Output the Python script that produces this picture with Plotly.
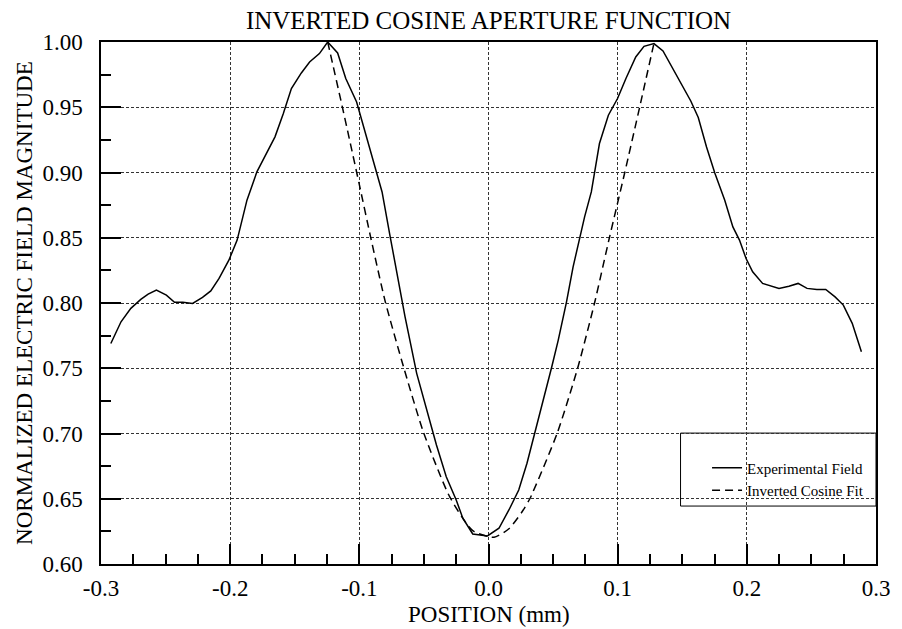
import plotly.graph_objects as go

# Experimental field
exp_x = [-0.2924, -0.2845, -0.2769, -0.2692, -0.2635, -0.2571, -0.2494, -0.2431, -0.2367, -0.2291,
         -0.2214, -0.2150, -0.2086, -0.2010, -0.1946, -0.1870, -0.1793, -0.1729, -0.1653, -0.1589,
         -0.1526, -0.1449, -0.1385, -0.1309, -0.1245, -0.1168, -0.1105, -0.1021, -0.0939, -0.0875,
         -0.0824, -0.0761, -0.0709, -0.0646, -0.0556, -0.0480, -0.0403, -0.0327, -0.0250, -0.0199,
         -0.0122, -0.0008, 0.0081, 0.0158, 0.0234, 0.0298, 0.0362, 0.0425, 0.0490, 0.0540,
         0.0604, 0.0655, 0.0706, 0.0744, 0.0796, 0.0821, 0.0859, 0.0928, 0.0999, 0.1064,
         0.1140, 0.1204, 0.1281, 0.1351, 0.1420, 0.1497, 0.1566, 0.1624, 0.1688, 0.1752,
         0.1829, 0.1892, 0.1943, 0.1994, 0.2045, 0.2122, 0.2249, 0.2326, 0.2397, 0.2466,
         0.2542, 0.2611, 0.2683, 0.2747, 0.2816, 0.2887]
exp_y = [0.769, 0.7856, 0.7959, 0.8028, 0.8068, 0.8099, 0.8060, 0.8005, 0.8005, 0.7997,
         0.8043, 0.8093, 0.8188, 0.8328, 0.8482, 0.8788, 0.9005, 0.9132, 0.9273, 0.9451,
         0.9643, 0.9763, 0.9847, 0.9911, 1.000, 0.9916, 0.972, 0.954, 0.926, 0.9043,
         0.8851, 0.8507, 0.8227, 0.7894, 0.7461, 0.718, 0.6912, 0.6669, 0.6491, 0.6351,
         0.6230, 0.6215, 0.6274, 0.6414, 0.6567, 0.6772, 0.7014, 0.7256, 0.7511, 0.7716,
         0.8009, 0.8277, 0.8507, 0.866, 0.8851, 0.901, 0.9222, 0.9439, 0.9567, 0.972,
         0.9885, 0.9967, 0.9988, 0.9931, 0.9809, 0.9668, 0.9548, 0.9421, 0.9196, 0.8997,
         0.8788, 0.8583, 0.8482, 0.8341, 0.8239, 0.815, 0.8112, 0.8129, 0.815, 0.8112,
         0.8104, 0.8104, 0.8047, 0.7984, 0.7844, 0.7626]

# Inverted cosine fit
fit_x = [-0.1245, -0.1131, -0.1002, -0.0913, -0.0799, -0.0658, -0.0505, -0.0301, -0.0122, 0.0043,
         0.0158, 0.0260, 0.0320, 0.0531, 0.0690, 0.0821, 0.0936, 0.1055, 0.1170, 0.1281]
fit_y = [1.000, 0.950, 0.8916, 0.8507, 0.8009, 0.7511, 0.7014, 0.6516, 0.6255, 0.6205,
         0.6270, 0.6400, 0.6500, 0.7000, 0.7500, 0.8000, 0.8500, 0.900, 0.950, 0.999]

x_ticks = [-0.3, -0.2, -0.1, 0.0, 0.1, 0.2, 0.3]
x_labels = ["-0.3", "-0.2", "-0.1", "0.0", "0.1", "0.2", "0.3"]
y_ticks = [0.60, 0.65, 0.70, 0.75, 0.80, 0.85, 0.90, 0.95, 1.00]
y_labels = ["0.60", "0.65", "0.70", "0.75", "0.80", "0.85", "0.90", "0.95", "1.00"]

FONT = "Liberation Serif, Times New Roman, serif"

fig = go.Figure()
fig.add_trace(go.Scatter(x=exp_x, y=exp_y, mode="lines", name="Experimental Field",
                         line=dict(color="black", width=1.5)))
fig.add_trace(go.Scatter(x=fit_x, y=fit_y, mode="lines", name="Inverted Cosine Fit",
                         line=dict(color="black", width=1.5, dash="8px,5px", shape="spline", smoothing=0.6)))

axis_common = dict(
    showline=True, linecolor="black", linewidth=1.5, mirror=True,
    showgrid=True, gridcolor="#333333", gridwidth=1, griddash="3px,2px",
    ticks="inside", tickcolor="black", tickwidth=1.5,
    zeroline=False,
    tickfont=dict(family=FONT, size=23, color="black"),
)

fig.update_xaxes(
    range=[-0.3, 0.3], tickvals=x_ticks, ticktext=x_labels, ticklen=20,
    minor=dict(ticks="inside", dtick=0.025, ticklen=10, tickcolor="black", tickwidth=1.5, showgrid=False),
    ticklabelstandoff=3,
    **axis_common,
)
fig.update_yaxes(
    range=[0.60, 1.00], tickvals=y_ticks, ticktext=y_labels, ticklen=20,
    minor=dict(ticks="inside", dtick=0.025, ticklen=10, tickcolor="black", tickwidth=1.5, showgrid=False),
    ticklabelstandoff=12,
    **axis_common,
)

fig.add_shape(type="rect", xref="paper", yref="paper", x0=0.7478, x1=1.0, y0=0.111, y1=0.2508,
              line=dict(color="black", width=1), fillcolor="white", layer="below")

fig.add_annotation(text="POSITION (mm)", xref="paper", yref="paper", x=0.5, y=-0.0977,
                   xanchor="center", yanchor="middle", showarrow=False,
                   font=dict(family=FONT, size=23, color="black"))
fig.add_annotation(text="NORMALIZED ELECTRIC FIELD MAGNITUDE", xref="paper", yref="paper",
                   x=-0.0995, y=0.5, xanchor="center", yanchor="middle", textangle=-90,
                   showarrow=False, font=dict(family=FONT, size=23, color="black"))

fig.update_layout(
    width=894, height=621,
    margin=dict(l=93, r=17, t=34, b=65),
    paper_bgcolor="white", plot_bgcolor="rgba(0,0,0,0)",
    title=dict(text="INVERTED COSINE APERTURE FUNCTION", x=0.5, xref="paper", y=0.9807, yref="container",
               yanchor="middle",
               font=dict(family=FONT, size=25, color="black")),
    legend=dict(x=0.782, y=0.2154, xanchor="left", yanchor="top", bgcolor="rgba(0,0,0,0)",
                borderwidth=0, font=dict(family=FONT, size=15, color="black"), tracegroupgap=0),
    showlegend=True,
)

fig.write_html("out.html")
